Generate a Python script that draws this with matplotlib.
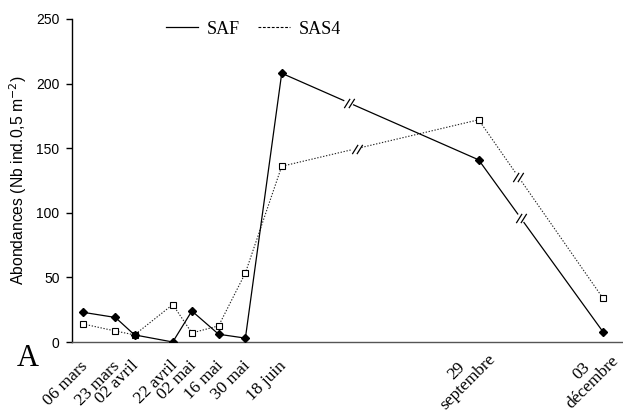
import matplotlib
matplotlib.use("Agg")
import matplotlib.pyplot as plt
import numpy as np
from matplotlib.path import Path
from matplotlib.lines import Line2D

# ---- data ----
dates = ["2000-03-06", "2000-03-23", "2000-04-02", "2000-04-22", "2000-05-02",
         "2000-05-16", "2000-05-30", "2000-06-18", "2000-09-29", "2000-12-03"]
tick_labels = ["06 mars", "23 mars", "02 avril", "22 avril", "02 mai",
               "16 mai", "30 mai", "18 juin", "29\nseptembre", "03\ndécembre"]
saf = [23, 19, 5.5, 0, 24, 6, 3, 208, 141, 8]
sas4 = [14, 8.5, 5.5, 29, 7, 12.5, 53.5, 136, 172, 34]
yticks = [0, 50, 100, 150, 200, 250]

# day-of-year positions
x = (np.array(dates, dtype="datetime64[D]") - np.datetime64("2000-01-01")).astype(float) + 1

fig = plt.figure(figsize=(6.23, 4.13), dpi=100)
ax = fig.add_axes([72/623, 1-342/413, 550/623, 323/413])

# axis breaks: (segment start index, fraction along segment)
breaks_saf = [(7, 0.34), (8, 0.34)]
breaks_sas4 = [(7, 0.38), (8, 0.32)]

slash = Path([(-4.5, -4), (0.5, 4), (-0.5, -4), (4.5, 4)],
             [Path.MOVETO, Path.LINETO, Path.MOVETO, Path.LINETO])

def with_gaps(xv, yv, brks, g=0.025):
    xs, ys = [xv[0]], [yv[0]]
    marks = []
    bd = dict(brks)
    for i in range(len(xv) - 1):
        if i in bd:
            f = bd[i]
            for ff, add_nan in ((f - g, True), (f + g, False)):
                xs.append(xv[i] + ff * (xv[i+1] - xv[i]))
                ys.append(yv[i] + ff * (yv[i+1] - yv[i]))
                if add_nan:
                    xs.append(np.nan); ys.append(np.nan)
            marks.append((xv[i] + f * (xv[i+1] - xv[i]), yv[i] + f * (yv[i+1] - yv[i])))
        xs.append(xv[i+1]); ys.append(yv[i+1])
    return np.array(xs), np.array(ys), marks

xs1, ys1, m1 = with_gaps(x, np.array(saf, float), breaks_saf)
xs2, ys2, m2 = with_gaps(x, np.array(sas4, float), breaks_sas4)

ax.plot(xs2, ys2, color="#222222", lw=0.8, ls=(0, (1.2, 1.5)), zorder=2)
ax.plot(x, sas4, ls="none", marker="s", ms=3.8, mfc="white", mec="black", mew=0.8, zorder=3)
ax.plot(xs1, ys1, color="black", lw=0.9, zorder=2)
ax.plot(x, saf, ls="none", marker="D", ms=4, mfc="black", mec="black", zorder=4)

for mx, my in m1 + m2:
    ax.plot([mx], [my], ls="none", marker=slash, ms=7.5, mew=0.9, color="black", zorder=5)

# legend
h = [Line2D([], [], color="black", lw=0.9),
     Line2D([], [], color="black", lw=0.8, ls=(0, (2.5, 1.5)))]
ax.legend(h, ["SAF", "SAS4"], loc="center", bbox_to_anchor=(0.33, 0.969), ncol=2,
          frameon=False, handlelength=1.75, handletextpad=0.5, columnspacing=1.0,
          prop={"family": "Liberation Serif", "size": 13})

ax.set_xlim(60.3, 348)
ax.set_ylim(0, 250)
ax.set_yticks(yticks)
ax.set_yticklabels([str(v) for v in yticks], fontfamily="Liberation Sans", fontsize=10)
ax.tick_params(axis="y", direction="out", length=4, width=1, pad=5)
ax.set_xticks([])
for s in ("top", "right"):
    ax.spines[s].set_visible(False)
ax.spines["left"].set_linewidth(1)
ax.spines["bottom"].set_linewidth(1)
ax.spines["bottom"].set_color("#555555")

# rotated x labels
xtr = ax.get_xaxis_transform()
for xi, lab in zip(x, tick_labels):
    if "\n" in lab:
        ax.annotate(lab, xy=(xi, 0), xycoords=xtr, xytext=(-11.5, -25), textcoords="offset points",
                    rotation=45, rotation_mode="anchor", ha="center", va="center",
                    multialignment="center", linespacing=1.0,
                    fontfamily="Liberation Serif", fontsize=12.5, annotation_clip=False)
    else:
        ax.annotate(lab, xy=(xi, 0), xycoords=xtr, xytext=(1.5, -15.5), textcoords="offset points",
                    rotation=45, rotation_mode="anchor", ha="right", va="center",
                    fontfamily="Liberation Serif", fontsize=12.5, annotation_clip=False)

ax.set_ylabel("Abondances (Nb ind.0,5 m$^{-2}$)", fontfamily="Liberation Sans", fontsize=11.3, labelpad=5)

fig.text(17/623, 1-358/413, "A", fontfamily="Liberation Serif", fontsize=22, ha="left", va="center")

fig.savefig("out.png", dpi=100)
